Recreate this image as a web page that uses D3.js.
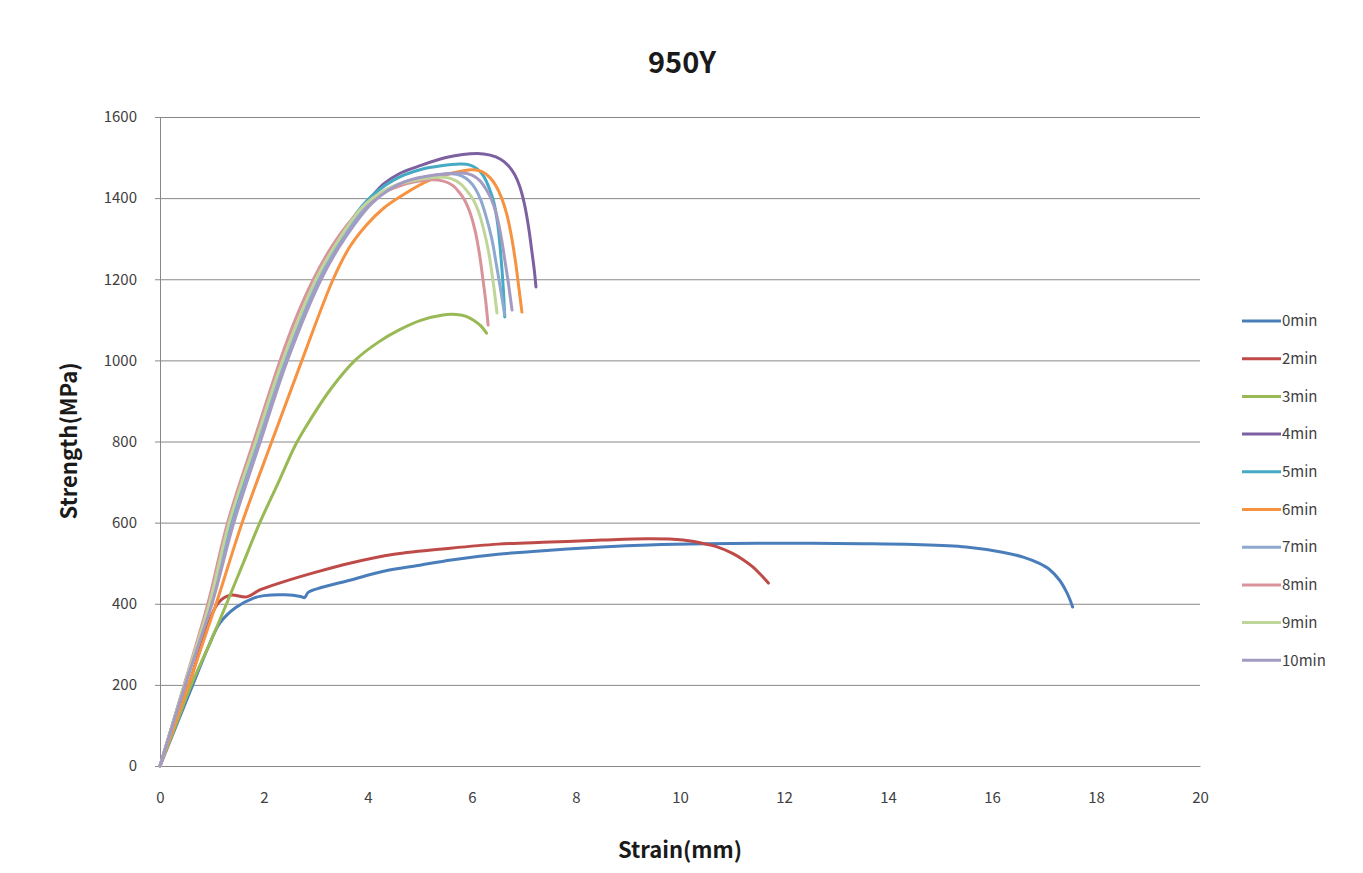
<!DOCTYPE html>
<html>
<head>
<meta charset="utf-8">
<script src="https://cdn.jsdelivr.net/npm/d3@7"></script>
<style>
  body { margin: 0; background: #fff; }
  text { font-family: "Noto Sans CJK KR", "Noto Sans", sans-serif; }
</style>
</head>
<body>
<div id="chart"></div>
<script>
// series names and colours (Excel style palette)
var seriesNames = ["0min", "2min", "3min", "4min", "5min", "6min", "7min", "8min", "9min", "10min"];
var seriesColors = ["#4a7ebb", "#be4b48", "#98b954", "#7d60a0", "#46aac5", "#f69240", "#8ea8d0", "#d9939a", "#bfd59a", "#a49bc3"];

// [strain, strength] points
var s0min = [[0,0],[0.63,200],[0.95,300],[1.15,352],[1.45,390],[1.8,414],[2.0,420],[2.4,422],[2.7,418],[2.78,415],[2.85,428],[3.1,440],[3.65,458],[4.3,480],[5.0,495],[5.6,508],[6.5,522],[7.5,532],[8.5,540],[9.4,545],[10.5,548],[12,549],[13.5,548],[14.5,546],[15.5,540],[16.2,527],[16.6,515],[16.9,500],[17.1,485],[17.3,458],[17.43,430],[17.5,410],[17.55,392]];
var s2min = [[0,0],[0.55,200],[1.12,402],[1.35,421],[1.67,417],[1.92,434],[2.37,454],[3.0,478],[3.65,500],[4.5,522],[5.58,537],[6.5,547],[7.5,552],[8.5,557],[9.42,560],[10.06,557],[10.4,550],[10.7,541],[11.0,525],[11.2,510],[11.4,491],[11.55,472],[11.7,451]];
var s3min = [[0,0],[0.3,100],[0.6,200],[0.95,300],[1.28,400],[1.6,500],[1.92,600],[2.28,700],[2.6,790],[2.8,835],[3.27,927],[3.75,1000],[4.2,1045],[4.6,1075],[5.0,1098],[5.44,1112],[5.7,1113],[5.9,1108],[6.05,1097],[6.17,1085],[6.28,1067]];
var s4min = [[0,0],[0.5,210],[0.97,400],[1.38,600],[1.88,800],[2.4,1000],[3.05,1200],[3.5,1300],[3.8,1355],[4.05,1400],[4.3,1435],[4.6,1460],[4.94,1477],[5.5,1500],[6.1,1510],[6.35,1506],[6.55,1496],[6.7,1480],[6.82,1458],[6.92,1428],[7.0,1390],[7.08,1335],[7.15,1270],[7.2,1220],[7.23,1181]];
var s5min = [[0,0],[0.5,212],[0.95,400],[1.35,600],[1.85,800],[2.38,1000],[3.0,1200],[3.45,1300],[3.95,1390],[4.5,1445],[5.0,1470],[5.77,1484],[5.95,1482],[6.1,1472],[6.22,1455],[6.33,1425],[6.42,1390],[6.5,1330],[6.56,1250],[6.6,1180],[6.63,1107]];
var s6min = [[0,0],[0.55,200],[1.08,400],[1.58,600],[2.15,800],[2.73,1000],[3.33,1200],[3.65,1280],[3.98,1335],[4.3,1375],[4.6,1402],[5.2,1445],[6.0,1470],[6.2,1465],[6.35,1450],[6.47,1428],[6.57,1400],[6.67,1360],[6.76,1305],[6.84,1240],[6.9,1180],[6.96,1119]];
var s7min = [[0,0],[0.5,208],[0.98,400],[1.4,600],[1.9,800],[2.42,1000],[3.06,1200],[3.5,1300],[4.05,1390],[4.6,1435],[5.6,1460],[5.8,1455],[5.95,1442],[6.07,1422],[6.17,1395],[6.27,1355],[6.38,1300],[6.47,1235],[6.55,1175],[6.63,1112]];
var s8min = [[0,0],[0.5,215],[0.92,400],[1.3,600],[1.8,800],[2.31,1000],[2.6,1100],[2.95,1200],[3.3,1280],[3.7,1350],[4.05,1395],[4.6,1430],[5.2,1445],[5.45,1442],[5.62,1432],[5.75,1415],[5.86,1395],[5.96,1365],[6.06,1320],[6.14,1265],[6.2,1210],[6.26,1150],[6.31,1087]];
var s9min = [[0,0],[0.5,213],[0.95,400],[1.33,600],[1.84,800],[2.36,1000],[3.0,1200],[3.4,1290],[3.95,1385],[4.5,1430],[5.4,1452],[5.6,1448],[5.78,1435],[5.92,1415],[6.03,1395],[6.13,1365],[6.23,1320],[6.33,1260],[6.41,1190],[6.48,1117]];
var s10min = [[0,0],[0.5,206],[1.0,400],[1.42,600],[1.93,800],[2.45,1000],[3.1,1200],[3.55,1300],[4.1,1390],[4.7,1440],[5.8,1462],[6.0,1457],[6.15,1443],[6.27,1422],[6.37,1398],[6.47,1360],[6.56,1305],[6.64,1240],[6.7,1190],[6.77,1124]];
var seriesValues = [s0min, s2min, s3min, s4min, s5min, s6min, s7min, s8min, s9min, s10min];

// axis ticks and titles
var xTicks = [0, 2, 4, 6, 8, 10, 12, 14, 16, 18, 20];
var yTicks = [0, 200, 400, 600, 800, 1000, 1200, 1400, 1600];
var chartTitle = "950Y";
var xTitle = "Strain(mm)";
var yTitle = "Strength(MPa)";

// set the dimensions and margins of the graph
var margin = { top: 117, right: 163, bottom: 107, left: 160 },
    width = 1363 - margin.left - margin.right,
    height = 873 - margin.top - margin.bottom;

var svgRoot = d3.select("#chart")
    .append("svg")
    .attr("width", 1363)
    .attr("height", 873);

var svg = svgRoot.append("g")
    .attr("transform", "translate(" + margin.left + "," + margin.top + ")");

var x = d3.scaleLinear().domain([0, 20]).range([0, width]);
var y = d3.scaleLinear().domain([0, 1600]).range([height, 0]);

// gridlines
svg.append("g")
    .attr("class", "grid")
    .call(d3.axisLeft(y).tickValues(yTicks).tickSize(-width).tickFormat(""))
    .call(function (g) {
        g.select(".domain").remove();
        g.selectAll("line").attr("stroke", "#888888").attr("stroke-width", 1);
    });

// Y axis
svg.append("g")
    .call(d3.axisLeft(y).tickValues(yTicks).tickSize(5).tickPadding(18).tickFormat(d3.format("d")))
    .call(function (g) {
        g.select(".domain").attr("stroke", "#888888");
        g.selectAll("line").attr("stroke", "#888888");
        g.selectAll("text")
            .style("font-size", "15px")
            .attr("fill", "#404040");
    });

// X axis
svg.append("g")
    .attr("transform", "translate(0," + height + ")")
    .call(d3.axisBottom(x).tickValues(xTicks).tickSize(0).tickPadding(26))
    .call(function (g) {
        g.select(".domain").attr("stroke", "#888888");
        g.selectAll("text")
            .style("font-size", "15px")
            .attr("fill", "#404040");
    });

// Draw the lines
var line = d3.line()
    .x(function (d) { return x(d[0]); })
    .y(function (d) { return y(d[1]); })
    .curve(d3.curveCatmullRom.alpha(0.5));

svg.selectAll(".series")
    .data(seriesValues)
    .enter()
    .append("path")
    .attr("class", "series")
    .attr("fill", "none")
    .attr("stroke", function (d, i) { return seriesColors[i]; })
    .attr("stroke-width", 3)
    .attr("stroke-linejoin", "round")
    .attr("stroke-linecap", "round")
    .attr("d", line);

// Chart title
svgRoot.append("text")
    .attr("text-anchor", "middle")
    .attr("x", 682)
    .attr("y", 73)
    .style("font-size", "29px")
    .style("font-weight", "bold")
    .attr("fill", "#1a1a1a")
    .text(chartTitle);

// X axis title
svgRoot.append("text")
    .attr("text-anchor", "middle")
    .attr("x", 680)
    .attr("y", 858)
    .style("font-size", "22px")
    .style("font-weight", "bold")
    .attr("fill", "#1a1a1a")
    .text(xTitle);

// Y axis title
svgRoot.append("text")
    .attr("text-anchor", "middle")
    .attr("transform", "translate(77,441) rotate(-90)")
    .style("font-size", "22px")
    .style("font-weight", "bold")
    .attr("fill", "#1a1a1a")
    .text(yTitle);

// legend
var legend = svgRoot.selectAll(".legend")
    .data(seriesNames)
    .enter()
    .append("g")
    .attr("class", "legend")
    .attr("transform", function (d, i) { return "translate(1242," + (321 + i * 37.7) + ")"; });

legend.append("line")
    .attr("x1", 0).attr("x2", 39)
    .attr("y1", 0).attr("y2", 0)
    .attr("stroke", function (d, i) { return seriesColors[i]; })
    .attr("stroke-width", 3);

legend.append("text")
    .attr("x", 40)
    .attr("y", 0)
    .attr("dy", "0.35em")
    .style("font-size", "15px")
    .attr("fill", "#404040")
    .text(function (d) { return d; });
</script>
</body>
</html>
